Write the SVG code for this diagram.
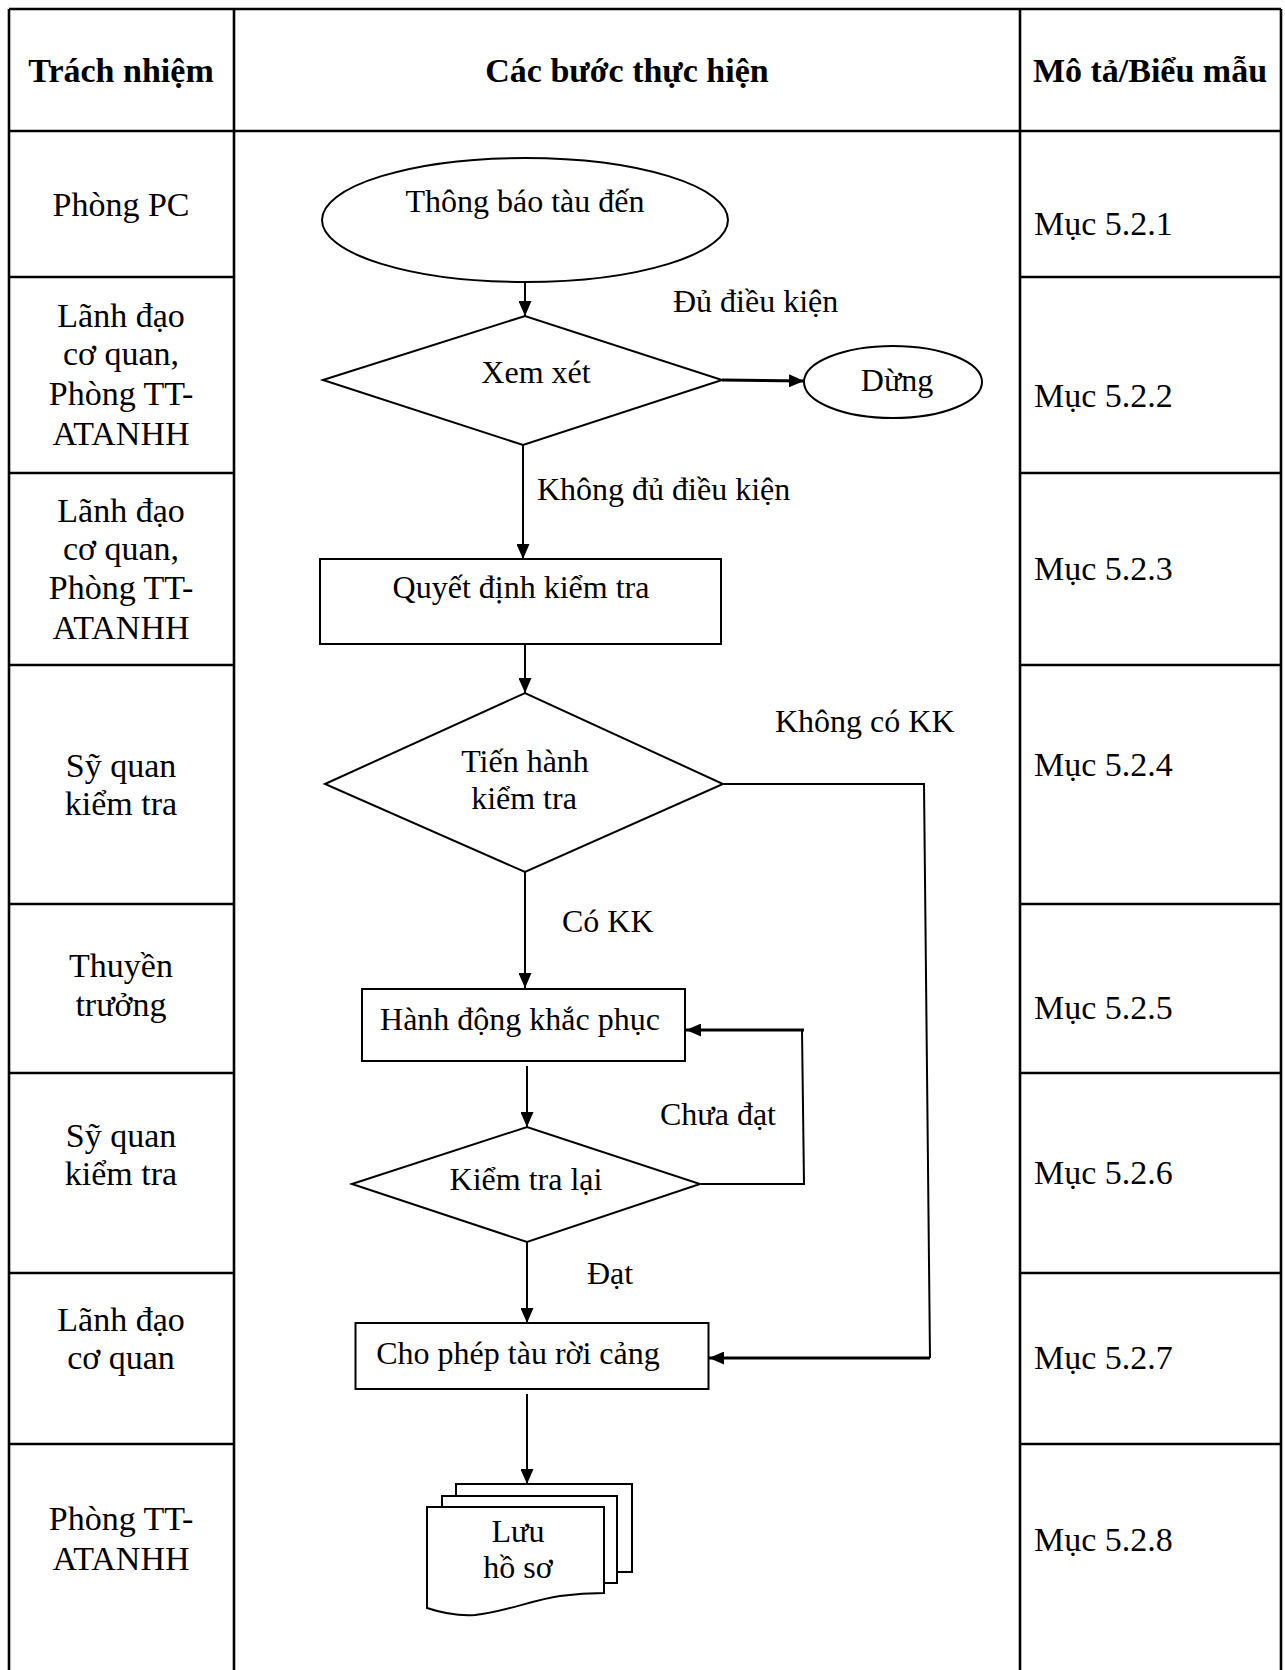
<svg xmlns="http://www.w3.org/2000/svg" width="1285" height="1670" viewBox="0 0 1285 1670">
<style>
.tbl{stroke:#000;stroke-width:2.6;fill:none}
.shape{stroke:#000;stroke-width:2;fill:#fff}
.con{stroke:#000;stroke-width:2;fill:none}
.thick{stroke-width:3}
text{font-family:"Liberation Serif","Times New Roman",serif;fill:#000}
.hd{font-size:34px;font-weight:bold;text-anchor:middle}
.c1{font-size:34px;text-anchor:middle}
.c3{font-size:34px}
.fc{font-size:32px}
.mid{text-anchor:middle}
</style>
<defs>
<marker id="arr" markerUnits="userSpaceOnUse" viewBox="0 0 15 13" refX="15" refY="6.5" markerWidth="15" markerHeight="13" orient="auto">
<path d="M0,0 L15,6.5 L0,13 z" fill="#000"/>
</marker>
</defs>
<rect width="1285" height="1670" fill="#fff"/>
<g id="table">
<path class="tbl" d="M9,9 H1281 M9,9 V1670 M1281,9 V1670 M234,9 V1670 M1020,9 V1670 M9,131 H1281"/>
<path class="tbl" d="M9,277 H234 M9,473 H234 M9,665 H234 M9,904 H234 M9,1073 H234 M9,1273 H234 M9,1444 H234"/>
<path class="tbl" d="M1020,277 H1281 M1020,473 H1281 M1020,665 H1281 M1020,904 H1281 M1020,1073 H1281 M1020,1273 H1281 M1020,1444 H1281"/>
<text class="hd" x="121" y="82">Trách nhiệm</text>
<text class="hd" x="627" y="82">Các bước thực hiện</text>
<text class="hd" x="1150" y="82">Mô tả/Biểu mẫu</text>
<text class="c1" x="121" y="216">Phòng PC</text>
<text class="c1" x="121" y="327">Lãnh đạo</text>
<text class="c1" x="121" y="365">cơ quan,</text>
<text class="c1" x="121" y="405">Phòng TT-</text>
<text class="c1" x="121" y="445">ATANHH</text>
<text class="c1" x="121" y="522">Lãnh đạo</text>
<text class="c1" x="121" y="560">cơ quan,</text>
<text class="c1" x="121" y="599">Phòng TT-</text>
<text class="c1" x="121" y="639">ATANHH</text>
<text class="c1" x="121" y="777">Sỹ quan</text>
<text class="c1" x="121" y="815">kiểm tra</text>
<text class="c1" x="121" y="977">Thuyền</text>
<text class="c1" x="121" y="1016">trưởng</text>
<text class="c1" x="121" y="1147">Sỹ quan</text>
<text class="c1" x="121" y="1185">kiểm tra</text>
<text class="c1" x="121" y="1331">Lãnh đạo</text>
<text class="c1" x="121" y="1369">cơ quan</text>
<text class="c1" x="121" y="1530">Phòng TT-</text>
<text class="c1" x="121" y="1570">ATANHH</text>
<text class="c3" x="1034" y="235">Mục 5.2.1</text>
<text class="c3" x="1034" y="407">Mục 5.2.2</text>
<text class="c3" x="1034" y="580">Mục 5.2.3</text>
<text class="c3" x="1034" y="776">Mục 5.2.4</text>
<text class="c3" x="1034" y="1019">Mục 5.2.5</text>
<text class="c3" x="1034" y="1184">Mục 5.2.6</text>
<text class="c3" x="1034" y="1369">Mục 5.2.7</text>
<text class="c3" x="1034" y="1551">Mục 5.2.8</text>
</g>
<g id="connectors">
<path class="con" d="M525,282 V316" marker-end="url(#arr)"/>
<path class="con thick" d="M722,380 L804,381" marker-end="url(#arr)"/>
<path class="con" d="M523,445 V559" marker-end="url(#arr)"/>
<path class="con" d="M525,641 V693" marker-end="url(#arr)"/>
<path class="con" d="M525,872 V988" marker-end="url(#arr)"/>
<path class="con" d="M724,784 H924 L930,1358"/>
<path class="con thick" d="M930,1358 H709" marker-end="url(#arr)"/>
<path class="con" d="M527,1066 V1127" marker-end="url(#arr)"/>
<path class="con" d="M701,1184 H804 L802,1030"/>
<path class="con thick" d="M804,1030 H686" marker-end="url(#arr)"/>
<path class="con" d="M527,1242 V1323" marker-end="url(#arr)"/>
<path class="con" d="M527,1394 V1484" marker-end="url(#arr)"/>
<text class="fc" x="673" y="312">Đủ điều kiện</text>
<text class="fc" x="537" y="500">Không đủ điều kiện</text>
<text class="fc" x="775" y="732">Không có KK</text>
<text class="fc" x="562" y="932">Có KK</text>
<text class="fc" x="660" y="1125">Chưa đạt</text>
<text class="fc" x="587" y="1284">Đạt</text>
</g>
<g id="n1">
<ellipse class="shape" cx="525" cy="220" rx="203" ry="62"/>
<text class="fc mid" x="525" y="212">Thông báo tàu đến</text>
</g>
<g id="n2">
<polygon class="shape" points="323,380 525,316 722,380 523,445"/>
<text class="fc mid" x="536" y="383">Xem xét</text>
</g>
<g id="n3">
<ellipse class="shape" cx="893" cy="382" rx="89" ry="36"/>
<text class="fc mid" x="897" y="391">Dừng</text>
</g>
<g id="n4">
<rect class="shape" x="320" y="559" width="401" height="85"/>
<text class="fc mid" x="521" y="598">Quyết định kiểm tra</text>
</g>
<g id="n5">
<polygon class="shape" points="325,784 525,693 723,784 525,872"/>
<text class="fc mid" x="525" y="772">Tiến hành</text>
<text class="fc mid" x="524" y="809">kiểm tra</text>
</g>
<g id="n6">
<rect class="shape" x="362" y="989" width="323" height="72"/>
<text class="fc mid" x="520" y="1030">Hành động khắc phục</text>
</g>
<g id="n7">
<polygon class="shape" points="352,1184 527,1127 700,1184 527,1242"/>
<text class="fc mid" x="526" y="1190">Kiểm tra lại</text>
</g>
<g id="n8">
<rect class="shape" x="355.5" y="1323" width="353" height="66"/>
<text class="fc mid" x="518" y="1364">Cho phép tàu rời cảng</text>
</g>
<g id="n9">
<path class="shape" d="M456,1484 H632 V1572 H617 V1496 H456 Z"/>
<path class="shape" d="M442,1496 H617 V1583 H604 V1507 H442 Z"/>
<path class="shape" d="M427,1507 H604 V1593 C590,1593 575,1594 560,1596 C532,1600 505,1612 475,1615 C460,1616 445,1614 427,1608 Z"/>
<text class="fc mid" x="518" y="1542">Lưu</text>
<text class="fc mid" x="518" y="1578">hồ sơ</text>
</g>
</svg>
